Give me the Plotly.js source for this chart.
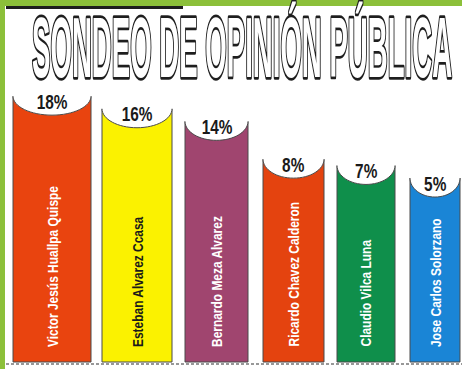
<!DOCTYPE html>
<html><head><meta charset="utf-8">
<script src="https://cdn.plot.ly/plotly-3.0.1.min.js"></script>
<style>html,body{margin:0;padding:0;background:#fff}#chart{width:462px;height:369px}</style>
</head><body><div id="chart"></div>
<script>
// ---- data ----
const TITLE = 'SONDEO DE OPINIÓN PÚBLICA';
const candidates = ['Victor Jesús Huallpa Quispe','Esteban Alvarez Ccasa','Bernardo Meza Alvarez','Ricardo Chavez Calderon','Claudio Vilca Luna','Jose Carlos Solorzano'];
const percentages = [18,16,14,8,7,5];
const percentLabels = percentages.map(v => v + '%');

// ---- style ----
const barColors = ['#e9440f','#fbf200','#a0456f','#e4430f','#0f8f4b','#1a85d6'];
const nameColors = ['#ffffff','#1a1a1a','#ffffff','#ffffff','#ffffff','#ffffff'];
const W = 462, H = 369;
const PX_PER_X = 76.6, X0_PX = 52;
const barWidthPx = [78,70,63,61,58,50];
const barShiftPx = [0,8.4,11.3,11.7,7.6,0];
const BASE = -24.2, PX_PER_Y = 6.30, BASE_PX = 362;
const CUT_PX = 19;
const FONT = 'Liberation Sans, Arial, sans-serif';
const TITLE_SIZE = 32, TITLE_BOX = {left: 32, right: 452, capTop: 18, baseline: 77};
const NAME_LEN_PX = 161, PCT_W_PX = 31;

const xRange = [-X0_PX / PX_PER_X, (W - X0_PX) / PX_PER_X];
const yRange = [BASE - (H - BASE_PX) / PX_PER_Y, BASE + BASE_PX / PX_PER_Y];
const idx = candidates.map((_, i) => i);
const widthU = barWidthPx.map(w => w / PX_PER_X);
const shiftU = barShiftPx.map(s => s / PX_PER_X);
const offsetU = widthU.map((w, i) => shiftU[i] - w / 2);

const trace = {
  type: 'bar', x: idx, y: percentages.map(v => v - BASE), base: percentages.map(() => BASE),
  width: widthU, offset: offsetU,
  marker: {color: barColors, line: {color: '#4a4a4a', width: 1}},
  hoverinfo: 'skip'
};

const shapes = [];
const annotations = [];
const pctIdx = [], nameIdx = [];
annotations.push({
  xref: 'paper', yref: 'paper', x: 0.5, y: 0.87, xanchor: 'center', yanchor: 'middle',
  text: TITLE, showarrow: false, font: {family: FONT, size: TITLE_SIZE, weight: 'bold', color: '#ffffff'}
});
const k = 0.5523, d = CUT_PX / PX_PER_Y, e = 1 / PX_PER_X;
percentages.forEach((v, i) => {
  const xl = i + offsetU[i], xr = xl + widthU[i], xc = (xl + xr) / 2, hw = widthU[i] / 2;
  const arc = `C ${xl},${v - k * d} ${xc - k * hw},${v - d} ${xc},${v - d} C ${xc + k * hw},${v - d} ${xr},${v - k * d} ${xr},${v}`;
  shapes.push({type: 'path', xref: 'x', yref: 'y', layer: 'above', fillcolor: '#ffffff', line: {width: 0},
    path: `M ${xl - e},${v + 2} L ${xl - e},${v} L ${xl},${v} ${arc} L ${xr + e},${v} L ${xr + e},${v + 2} Z`});
  shapes.push({type: 'path', xref: 'x', yref: 'y', layer: 'above', fillcolor: 'rgba(0,0,0,0)', line: {width: 1, color: '#4a4a4a'},
    path: `M ${xl},${v} ${arc}`});
  pctIdx.push(annotations.length);
  annotations.push({x: i + shiftU[i], y: v, xref: 'x', yref: 'y', yanchor: 'middle', xanchor: 'center', yshift: -5,
    text: percentLabels[i], showarrow: false, font: {family: FONT, size: 21, weight: 'bold', color: '#1a1a1a'}});
  nameIdx.push(annotations.length);
  annotations.push({x: i + shiftU[i], y: BASE, xref: 'x', yref: 'y', yanchor: 'bottom', xanchor: 'center', yshift: 13,
    textangle: -90, text: candidates[i], showarrow: false, font: {family: FONT, size: 15, weight: 'bold', color: nameColors[i]}});
});
// frame
shapes.push({type: 'rect', xref: 'paper', yref: 'paper', x0: 0, x1: 1, y0: 1 - 6 / H, y1: 1, fillcolor: '#8cc03a', line: {width: 0}, layer: 'above'});
shapes.push({type: 'rect', xref: 'paper', yref: 'paper', x0: 0, x1: 5 / W, y0: 0, y1: 1, fillcolor: '#8cc03a', line: {width: 0}, layer: 'above'});
shapes.push({type: 'rect', xref: 'paper', yref: 'paper', x0: 6 / W, x1: 183 / W, y0: 1 - 9 / H, y1: 1 - 6 / H, fillcolor: '#1e1e1e', line: {width: 0}, layer: 'above'});
shapes.push({type: 'line', xref: 'paper', yref: 'paper', x0: 6 / W, x1: 1, y0: 1 - 364 / H, y1: 1 - 364 / H, line: {width: 1.5, color: '#777', dash: '3px,2px'}, layer: 'above'});

const layout = {
  width: W, height: H, margin: {l: 0, r: 0, t: 0, b: 0, pad: 0},
  paper_bgcolor: '#ffffff', plot_bgcolor: '#ffffff', showlegend: false,
  xaxis: {range: xRange, visible: false, fixedrange: true},
  yaxis: {range: yRange, visible: false, fixedrange: true},
  shapes: shapes, annotations: annotations
};

function annText(gd, i) { return gd.querySelector(`.annotation[data-index="${i}"] .annotation-text`); }
function condense(t, f, atStart) {
  const bb = t.getBBox();
  const ax = atStart ? bb.x : bb.x + bb.width / 2;
  const ex = t.getAttribute('transform') || '';
  t.setAttribute('transform', `${ex} translate(${ax},0) scale(${f},1) translate(${-ax},0)`);
}

Plotly.newPlot('chart', [trace], layout, {staticPlot: true, displayModeBar: false}).then(gd => {
  const p0 = annText(gd, pctIdx[0]);
  if (p0) {
    const f = PCT_W_PX / p0.getBBox().width;
    pctIdx.forEach(i => { const t = annText(gd, i); if (t) condense(t, f, false); });
  }
  const n0 = annText(gd, nameIdx[0]);
  if (n0) {
    const f = NAME_LEN_PX / n0.getBBox().width;
    nameIdx.forEach(i => { const t = annText(gd, i); if (t) condense(t, f, true); });
  }
  const t = annText(gd, 0);
  if (!t) return;
  const bb = t.getBBox();
  const r = t.getBoundingClientRect();
  const offX = r.left - bb.x, offY = r.top - bb.y;
  const ctx = document.createElement('canvas').getContext('2d');
  ctx.font = `bold ${TITLE_SIZE}px ${FONT}`;
  const m = ctx.measureText(TITLE);
  const capA = ctx.measureText('SONDEOPINBLCA').actualBoundingBoxAscent;
  const inkL = bb.x - m.actualBoundingBoxLeft, inkR = bb.x + m.actualBoundingBoxRight;
  const baseline = bb.y + m.fontBoundingBoxAscent;
  const capTop = baseline - capA;
  const sx = (TITLE_BOX.right - TITLE_BOX.left) / (inkR - inkL);
  const sy = (TITLE_BOX.baseline - TITLE_BOX.capTop) / capA;
  const a = TITLE_BOX.left - offX - sx * inkL;
  const b = TITLE_BOX.capTop - offY - sy * capTop;
  const ex = t.getAttribute('transform') || '';
  t.setAttribute('transform', `${ex} matrix(${sx},0,0,${sy},${a},${b})`);
  t.style.stroke = '#1e1e1e';
  t.style.strokeWidth = '4px';
  t.style.vectorEffect = 'non-scaling-stroke';
  t.style.paintOrder = 'stroke';
  t.style.strokeLinejoin = 'round';
});
</script></body></html>
